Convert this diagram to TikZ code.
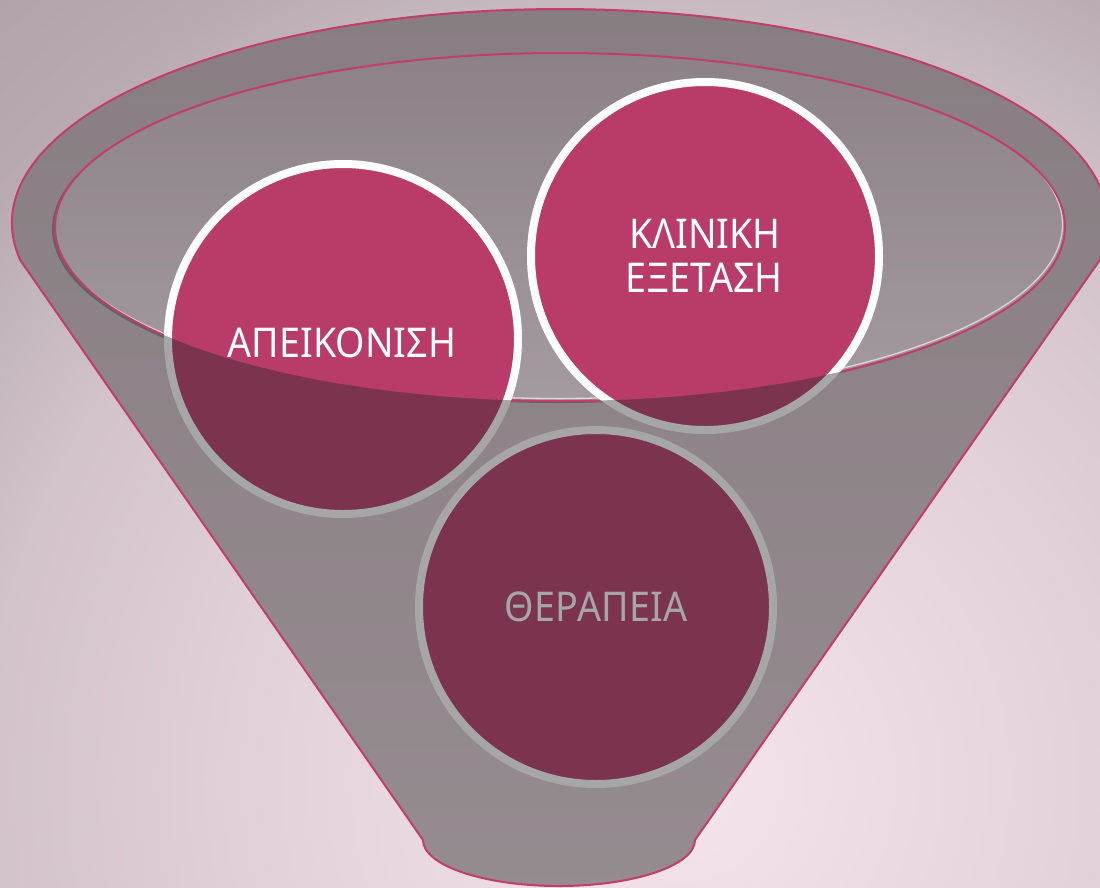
\documentclass[tikz,border=0pt]{standalone}
\usepackage{fontspec}
\setmainfont{Noto Sans}
\definecolor{rimtop}{HTML}{82787D}
\definecolor{rimbot}{HTML}{A49B9F}
\definecolor{ellA}{HTML}{8B8186}
\definecolor{ellB}{HTML}{A49BA0}
\definecolor{edge}{HTML}{C23D6B}
\definecolor{shad}{HTML}{676064}
\definecolor{pinkc}{HTML}{B93C68}
\definecolor{darkc}{HTML}{7B3350}
\definecolor{grayb}{HTML}{A6A6A6}
\definecolor{bgA}{HTML}{F6E4EC}
\definecolor{bgB}{HTML}{E2D1D9}
\definecolor{bgC}{HTML}{D2C2CA}
\definecolor{bgD}{HTML}{C6B8BF}
\definecolor{bgE}{HTML}{B8AAB0}
\definecolor{bgF}{HTML}{B1A3A9}
\pgfdeclareradialshading{bgshade}{\pgfpoint{0bp}{0bp}}{%
  color(0bp)=(bgA); color(430bp)=(bgB); color(690bp)=(bgC);
  color(790bp)=(bgD); color(890bp)=(bgE); color(1035bp)=(bgF); color(1100bp)=(bgF)}
\tikzset{
  funnelbody/.style={draw=edge, line width=2, top color=rimtop, bottom color=rimbot},
  innerell/.style={draw=edge, line width=2, top color=ellA, bottom color=ellB},
  lowcirc/.style={circle, inner sep=0, minimum size=#1, fill=darkc, draw=grayb, line width=8},
  upcirc/.style={fill=pinkc, draw=white, line width=8},
  lbl/.style={text=white, font=\fontsize{41}{44}\selectfont, inner sep=0, anchor=base},
}
\newcommand{\narrow}[1]{\scalebox{0.92}[1]{#1}}
\begin{document}
\begin{tikzpicture}[x=1pt,y=1pt]
\useasboundingbox (0,0) rectangle (1100,-887);
\begin{scope}
  \clip (0,0) rectangle (1100,-887);
  \pgftext[at=\pgfpoint{680pt}{-780pt}]{\pgfuseshading{bgshade}}
\end{scope}
% funnel body
\path[funnelbody] (20.3,-260.2) arc[start angle=190, end angle=-10, x radius=548, y radius=214]
  -- (695,-840) arc[start angle=0, end angle=-180, x radius=136, y radius=46] -- cycle;
% shadow and inner ellipse
\fill[shad] (557,-229) ellipse[x radius=505, y radius=174];
\path[innerell] (560,-227) ellipse[x radius=505, y radius=174];
\begin{scope}
  \clip (560,-227) ellipse[x radius=504, y radius=173];
  \draw[white, opacity=.6, line width=1.3] (557.5,-224.5) ellipse[x radius=505, y radius=174];
\end{scope}
% circles, lower (dark) parts
\node[lowcirc=350] (apeik) at (343,-339) {};
\node[lowcirc=348] (klin) at (705,-256) {};
% upper (pink) parts inside the inner ellipse
\begin{scope}
  \clip (560,-227) ellipse[x radius=505, y radius=174];
  \path[upcirc] (apeik.center) circle (175);
  \path[upcirc] (klin.center) circle (174);
\end{scope}
\node[lowcirc=354] (ther) at (596,-607) {};
% labels
\node[lbl] (tapeik) at (342,-357) {\narrow{ΑΠΕΙΚΟΝΙΣΗ}};
\node[lbl] (tklin1) at (705,-248) {\narrow{ΚΛΙΝΙΚΗ}};
\node[lbl] (tklin2) at (704,-292) {\narrow{ΕΞΕΤΑΣΗ}};
\node[lbl, text=grayb] (tther) at (596,-621) {\narrow{ΘΕΡΑΠΕΙΑ}};
\end{tikzpicture}
\end{document}
